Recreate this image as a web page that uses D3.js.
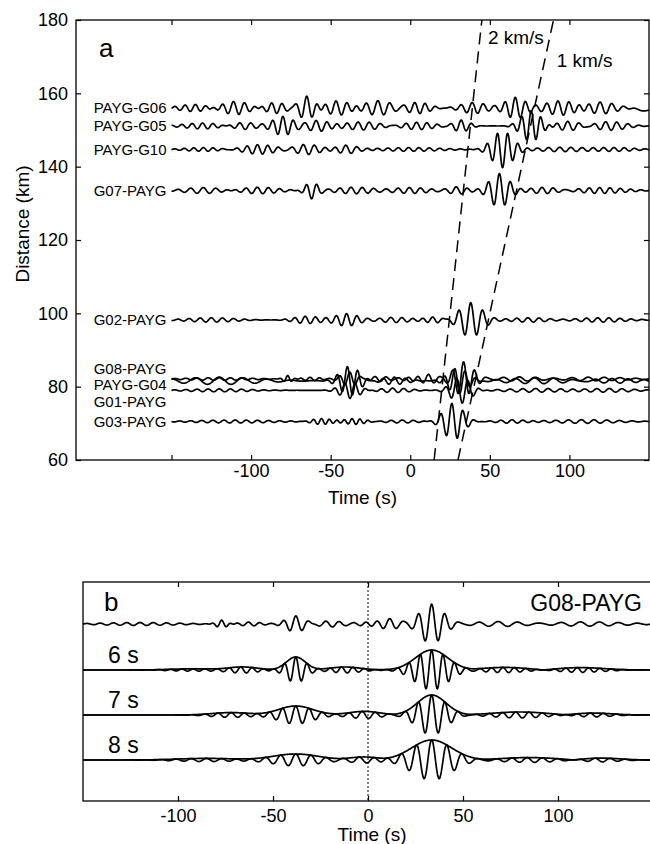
<!DOCTYPE html>
<html>
<head>
<meta charset="utf-8">
<script src="https://cdn.jsdelivr.net/npm/d3@7"></script>
<style>
body { margin: 0; background: #fff; }
text { font-family: "Liberation Sans", Arial, sans-serif; fill: #000; }
.trace { fill: none; stroke: #000; stroke-width: 1.7; stroke-linejoin: round; }
.frame { fill: none; stroke: #000; stroke-width: 1.3; }
.tick line { stroke: #000; stroke-width: 1.2; }
</style>
</head>
<body>
<div id="chart"></div>
<script>
// ---- data ----
// panel a: station pairs, distance (km) of each trace, and where its name sits
var pairs     = ["PAYG-G06", "PAYG-G05", "PAYG-G10", "G07-PAYG", "G02-PAYG", "G08-PAYG", "PAYG-G04", "G01-PAYG", "G03-PAYG"];
var distances = [156, 151.1, 144.7, 133.5, 98.2, 82.1, 81.6, 79.0, 70.5];
var labelKm   = [156, 151.1, 144.7, 133.5, 98.2, 84.9, 80.5, 75.9, 70.5];

// wave packets per trace: [centre (s), amplitude (km), width (s), period (s), phase]
var wavG06 = [[-135,1.0,10,6.5,0],[-110,1.8,9,7,1],[-85,1.5,7,6.5,2],[-65,3.3,5,7,0],[-45,2.0,8,7,1.5],
              [-20,2.0,9,7.5,0.3],[5,1.5,7,6.5,2.1],[40,1.5,8,7,1],[66,2.9,6,6.5,0],[95,2.0,10,7,2],
              [120,1.6,9,7.5,0.7],[147,-0.8,4,40,0]];
var wavG05 = [[-130,0.8,12,6.5,0.5],[-105,1.0,8,7,2],[-80,2.6,6,6.5,0],[-58,1.5,7,7,1],[-30,1.1,12,7,2.5],
              [5,1.0,10,6.5,1],[32,1.6,5,6.5,0],[76,4.2,6,6,0],[100,1.3,8,7,1],[125,1.2,10,7,2]];
var wavG10 = [[-130,0.5,12,6,0],[-95,1.3,10,6.5,1],[-65,1.4,8,7,2],[-40,1.1,6,7,0.5],[0,0.5,20,6.5,1],
              [58,5.0,6.5,6.5,3.14],[95,0.6,15,7,1],[130,0.5,12,6.5,2]];
var wavG07 = [[-130,0.8,12,8,0],[-95,0.9,12,7,1],[-62,2.2,4,6.5,3.14],[-35,0.9,12,7,2],[0,0.8,12,7,0.5],
              [30,1.0,6,7,1],[56,4.6,6,7,0],[85,0.9,10,7,2],[120,0.8,15,6.5,1]];
var wavG02 = [[-125,0.6,15,7,0],[-65,1.0,8,6.5,1],[-40,1.7,7,6.5,0],[-10,0.7,10,7,2],[15,0.8,6,6.5,1],
              [38,4.7,7,7.5,0],[75,0.6,12,7,1],[120,0.6,15,7,2]];
var wavG08 = [[-120,0.35,20,7,0],[-77,0.9,3,5,0],[-62,0.45,6,6,1],[-38,1.9,5,6.5,0],[-20,0.7,8,7,2],
              [0,0.4,6,6,1],[12,1.2,5,7,0.5],[33.5,4.7,6,7,0],[70,0.6,15,10,1],[115,0.5,20,10,2]];
var wavG04 = [[-120,1.0,25,15,0],[-38,4.0,6,6.5,1.5],[-10,1.0,8,7,0],[30,3.5,6,6.5,2],[80,0.8,20,12,1],[130,0.6,15,10,2]];
var wavG01 = [[-120,0.4,20,7,0],[-38,2.2,6,6.5,3],[-10,0.6,10,7,1],[32,3.5,6,7,2.5],[80,0.5,20,8,1],[125,0.5,15,8,0]];
var wavG03 = [[-110,0.4,25,7,0],[-55,0.8,6,5,1],[-35,0.8,6,5,2],[-5,0.4,10,7,0],[27,5.0,6,7,0.8],
              [65,0.5,10,7,1],[110,0.5,20,8,2]];
var packets = [wavG06, wavG05, wavG10, wavG07, wavG02, wavG08, wavG04, wavG01, wavG03];

// move-out lines (labelled group velocity)
var moveLabels = ["2 km/s", "1 km/s"];
var moveVel    = [2, 1];

// panel b: narrow-band filtered G08-PAYG, [centre (s), amplitude (rel.), width (s), phase]
var bandLabels = ["6 s", "7 s", "8 s"];
var bandPeriod = [6, 7, 8];
var band6 = [[-92,0.06,12,0],[-66,0.15,8,1],[-38,0.65,5,0],[-12,0.15,8,2],[33.5,1.0,8.5,0],[72,0.13,12,1],[112,0.12,12,2]];
var band7 = [[-72,0.12,10,0],[-38,0.45,9,0],[-2,0.18,8,1],[33.5,1.0,7.5,0],[80,0.15,14,2],[118,0.1,10,1]];
var band8 = [[-85,0.08,15,0],[-38,0.3,12,0],[-2,0.15,8,2],[33.5,1.0,10.5,0],[85,0.12,15,1],[122,0.1,10,2]];
var bands = [band6, band7, band8];
var bOffsets = [0, -2.3, -4.55, -6.8];

var xTicksA = [-150, -100, -50, 0, 50, 100];
var xTickLabelsA = ["", "-100", "-50", "0", "50", "100"];
var yTicksA = [60, 80, 100, 120, 140, 160, 180];
var xTicksB = [-100, -50, 0, 50, 100];
var xTickLabelsB = ["-100", "-50", "0", "50", "100"];

// ---- drawing ----
var width = 650, height = 844;
var svg = d3.select("#chart").append("svg")
    .attr("width", width).attr("height", height);

var xA = d3.scaleLinear().domain([-210, 150]).range([76, 649]);
var yA = d3.scaleLinear().domain([60, 180]).range([460, 20]);
var xB = d3.scaleLinear().domain([-150, 150]).range([83, 653]);
var yB = d3.scaleLinear().domain([2.1, -8.85]).range([582, 801]);

var times = d3.range(-150, 150.001, 0.25);

function synth(list, t, T) {
  var re = 0, im = 0;
  list.forEach(function(p) {
    var per = T || p[3], ph = T ? p[3] : p[4];
    var g = p[1] * Math.exp(-0.5 * Math.pow((t - p[0]) / p[2], 2));
    var th = 2 * Math.PI * (t - p[0]) / per + ph;
    re += g * Math.cos(th); im += g * Math.sin(th);
  });
  return [re, im];
}

svg.append("defs").append("clipPath").attr("id", "clipA")
  .append("rect").attr("x", xA.range()[0]).attr("y", yA.range()[1])
  .attr("width", xA.range()[1] - xA.range()[0]).attr("height", yA.range()[0] - yA.range()[1]);

// ---------- panel a ----------
var gA = svg.append("g");

gA.append("g").attr("transform", "translate(0," + yA.range()[0] + ")")
  .call(d3.axisBottom(xA).tickValues(xTicksA).tickSize(-5).tickPadding(4.5)
        .tickFormat(function(d, i) { return xTickLabelsA[i]; }))
  .call(function(g) { g.select(".domain").remove(); g.selectAll("text").style("font-size", "18px"); });
gA.append("g").attr("transform", "translate(0," + yA.range()[1] + ")")
  .call(d3.axisTop(xA).tickValues(xTicksA).tickSize(-5).tickFormat(""))
  .call(function(g) { g.select(".domain").remove(); });
gA.append("g").attr("transform", "translate(" + xA.range()[0] + ",0)")
  .call(d3.axisLeft(yA).tickValues(yTicksA).tickSize(-5).tickPadding(8).tickFormat(String))
  .call(function(g) { g.select(".domain").remove(); g.selectAll("text").style("font-size", "18px"); });
gA.append("g").attr("transform", "translate(" + xA.range()[1] + ",0)")
  .call(d3.axisRight(yA).tickValues(yTicksA).tickSize(-5).tickFormat(""))
  .call(function(g) { g.select(".domain").remove(); });
gA.selectAll(".tick text").attr("fill", "#000").style("font-family", "'Liberation Sans', Arial, sans-serif");

gA.append("rect").attr("class", "frame")
  .attr("x", xA.range()[0]).attr("y", yA.range()[1])
  .attr("width", xA.range()[1] - xA.range()[0]).attr("height", yA.range()[0] - yA.range()[1]);

var lineA = d3.line().x(function(d) { return xA(d[0]); }).y(function(d) { return yA(d[1]); });

gA.selectAll("path.trace").data(pairs).enter().append("path")
  .attr("class", "trace")
  .attr("d", function(name, i) {
    return lineA(times.map(function(t) { return [t, distances[i] + synth(packets[i], t)[0]]; }));
  });

gA.selectAll("text.pair").data(pairs).enter().append("text")
  .attr("class", "pair")
  .attr("x", xA(-150) - 5)
  .attr("y", function(d, i) { return yA(labelKm[i]) + 5.3; })
  .attr("text-anchor", "end")
  .style("font-size", "15px")
  .text(function(d) { return d; });

// move-out lines: t = d / (2 v)
gA.selectAll("path.move").data(moveVel).enter().append("path")
  .attr("class", "move")
  .attr("clip-path", "url(#clipA)")
  .attr("d", function(v) { return lineA([[60 / (2 * v), 60], [185 / (2 * v), 185]]); })
  .attr("fill", "none").attr("stroke", "#000").attr("stroke-width", 1.5)
  .attr("stroke-dasharray", "12,7");

gA.append("text").attr("x", xA(48.8)).attr("y", yA(173.5)).style("font-size", "19px").text(moveLabels[0]);
gA.append("text").attr("x", xA(92)).attr("y", yA(167.2)).style("font-size", "19px").text(moveLabels[1]);

gA.append("text").attr("x", 99).attr("y", 57).style("font-size", "26px").text("a");
gA.append("text").attr("x", (xA.range()[0] + xA.range()[1]) / 2).attr("y", 504)
  .attr("text-anchor", "middle").style("font-size", "19px").text("Time (s)");
gA.append("text").attr("transform", "translate(29,224) rotate(-90)")
  .attr("text-anchor", "middle").style("font-size", "19px").text("Distance (km)");

// ---------- panel b ----------
var gB = svg.append("g");

gB.append("g").attr("transform", "translate(0," + yB.range()[1] + ")")
  .call(d3.axisBottom(xB).tickValues(xTicksB).tickSize(-5).tickPadding(8)
        .tickFormat(function(d, i) { return xTickLabelsB[i]; }))
  .call(function(g) { g.select(".domain").remove(); g.selectAll("text").style("font-size", "18px"); });
gB.append("g").attr("transform", "translate(0," + yB.range()[0] + ")")
  .call(d3.axisTop(xB).tickValues(xTicksB).tickSize(-5).tickFormat(""))
  .call(function(g) { g.select(".domain").remove(); });
gB.selectAll(".tick text").attr("fill", "#000").style("font-family", "'Liberation Sans', Arial, sans-serif");

gB.append("rect").attr("class", "frame")
  .attr("x", xB.range()[0]).attr("y", yB.range()[0])
  .attr("width", xB.range()[1] - xB.range()[0]).attr("height", yB.range()[1] - yB.range()[0]);

gB.append("line")
  .attr("x1", xB(0)).attr("x2", xB(0)).attr("y1", yB.range()[0]).attr("y2", yB.range()[1])
  .attr("stroke", "#000").attr("stroke-width", 1).attr("stroke-dasharray", "2,2");

var lineB = d3.line().x(function(d) { return xB(d[0]); }).y(function(d) { return yB(d[1]); });

// raw G08-PAYG, same record as in panel a, normalised to its main arrival
var g08Norm = 4.7;
gB.append("path").attr("class", "trace")
  .attr("d", lineB(times.map(function(t) { return [t, bOffsets[0] + synth(wavG08, t)[0] / g08Norm]; })));

bands.forEach(function(list, i) {
  var off = bOffsets[i + 1];
  var vals = times.map(function(t) { return synth(list, t, bandPeriod[i]); });
  gB.append("path").attr("class", "trace")
    .attr("d", lineB(vals.map(function(v, k) { return [times[k], off + v[0]]; })));
  gB.append("path").attr("class", "trace")
    .attr("d", lineB(vals.map(function(v, k) { return [times[k], off + Math.sqrt(v[0] * v[0] + v[1] * v[1])]; })));
  gB.append("text").attr("x", 108).attr("y", yB(off) - 7)
    .style("font-size", "23px").text(bandLabels[i]);
});

gB.append("text").attr("x", 104).attr("y", 611).style("font-size", "26px").text("b");
gB.append("text").attr("x", 642).attr("y", 611).attr("text-anchor", "end")
  .style("font-size", "23px").text(pairs[5]);
gB.append("text").attr("x", 372).attr("y", 841)
  .attr("text-anchor", "middle").style("font-size", "19px").text("Time (s)");
</script>
</body>
</html>
